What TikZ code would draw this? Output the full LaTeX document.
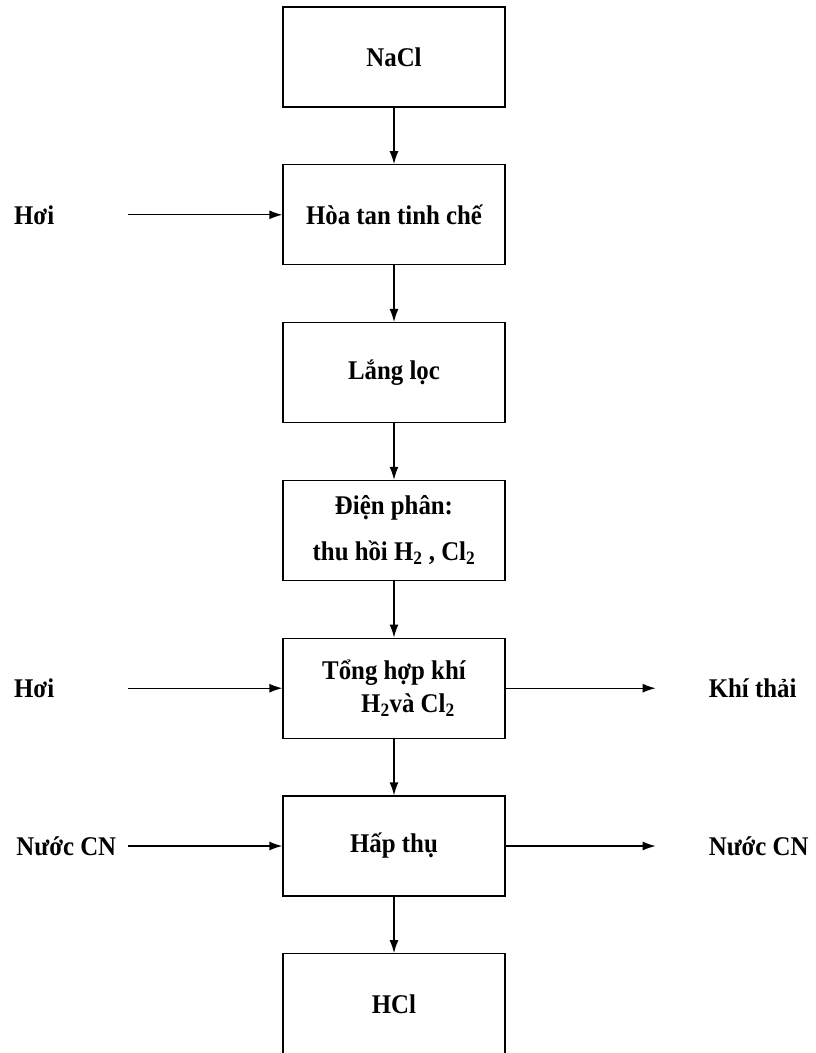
\documentclass[tikz,border=0pt]{standalone}
\usepackage{fontspec}
\setmainfont{Liberation Serif}[FakeStretch=0.92]
\usetikzlibrary{positioning, arrows.meta}

\begin{document}
\begin{tikzpicture}[
    x=1pt, y=-1pt,
    node distance=56.5pt,
    box/.style={
      draw,
      rectangle,
      line width=1.3pt,
      minimum width=222pt,
      minimum height=100pt,
      font=\fontsize{27}{33}\selectfont\bfseries,
      align=center
    },
    lbl/.style={font=\fontsize{27}{33}\selectfont\bfseries, inner sep=0pt},
    every edge/.style={draw, line width=1.3pt, -{Latex[length=13pt,width=9pt]}}
  ]
    \useasboundingbox (0,0) rectangle (816,1053);
    \clip (0,0) rectangle (816,1053);

    \node[box] (nacl) at (394,57) {NaCl};
    \node[box, below=of nacl] (hoatan) {Hòa tan tinh chế};
    \node[box, below=of hoatan] (langloc) {Lắng lọc};
    \node[box, below=of langloc] (dienphan) {Điện phân:\\[13pt]thu hồi H\textsubscript{2} , Cl\textsubscript{2}};
    \node[box, below=of dienphan] (tonghop) {Tổng hợp khí\\\hspace*{28pt}H\textsubscript{2}và Cl\textsubscript{2}};
    \node[box, below=of tonghop] (hapthu) {Hấp thụ};
    \node[box, below=of hapthu] (hcl) {HCl};

    \node[lbl, left=228pt of hoatan.west] (hoi1) {Hơi};
    \node[lbl, left=228pt of tonghop.west] (hoi2) {Hơi};
    \node[lbl, left=166pt of hapthu.west] (nuocin) {Nước CN};
    \node[lbl, right=203pt of tonghop.east] (khithai) {Khí thải};
    \node[lbl, right=203pt of hapthu.east] (nuocout) {Nước CN};

    \coordinate[left=154pt of hoatan.west] (hoi1in);
    \coordinate[left=154pt of tonghop.west] (hoi2in);
    \coordinate[left=154pt of hapthu.west] (nuocinend);
    \coordinate[right=150pt of tonghop.east] (khiout);
    \coordinate[right=150pt of hapthu.east] (nuocoutend);

    \draw (nacl) edge (hoatan)
          (hoatan) edge (langloc)
          (langloc) edge (dienphan)
          (dienphan) edge (tonghop)
          (tonghop) edge (hapthu)
          (hapthu) edge (hcl);
    \draw (hoi1in) edge (hoatan)
          (hoi2in) edge (tonghop)
          (nuocinend) edge (hapthu)
          (tonghop) edge (khiout)
          (hapthu) edge (nuocoutend);
  \end{tikzpicture}
\end{document}
